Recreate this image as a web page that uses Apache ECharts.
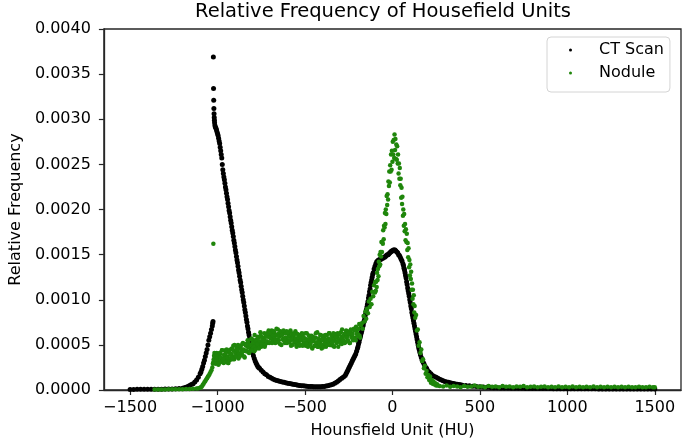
<!DOCTYPE html>
<html>
<head>
<meta charset="utf-8">
<script src="https://cdn.jsdelivr.net/npm/echarts@6/dist/echarts.min.js"></script>
<style>html,body{margin:0;padding:0;background:#fff}#c{width:685px;height:444px}</style>
</head>
<body>
<div id="c"></div>
<script>
// Tick labels
const xTicks = [-1500, -1000, -500, 0, 500, 1000, 1500];
const seriesNames = ['CT Scan', 'Nodule'];

// CT Scan: [HU, relative frequency]
const ctScan = [
[-1500,0.000006],[-1480,0.000006],[-1460,0.000007],[-1440,0.000007],[-1420,0.000007],[-1400,0.000008],[-1380,0.000008],[-1360,0.000008],[-1340,0.000009],[-1320,0.000009],[-1300,0.00001],[-1280,0.000011],[-1260,0.000012],[-1240,0.000014],[-1220,0.000017],[-1200,0.00002],
[-1190,0.000025],[-1180,0.00003],[-1170,0.00004],[-1160,0.00005],[-1150,0.00006],[-1140,0.00007],[-1130,0.00009],[-1120,0.00011],[-1110,0.00014],[-1100,0.00018],[-1095,0.0002],[-1090,0.00023],[-1085,0.00026],[-1080,0.0003],[-1075,0.00033],[-1070,0.00037],[-1065,0.00041],[-1060,0.00045],[-1055,0.0005],[-1050,0.00055],[-1045,0.00059],[-1040,0.00063],[-1035,0.00067],[-1030,0.00071],[-1028,0.00074],[-1026,0.00076],
[-1024,0.00369],[-1023,0.00334],[-1022,0.00321],[-1021,0.00312],[-1020,0.00306],[-1019,0.00302],[-1018,0.00299],[-1017,0.00296],
[-1015,0.00293],[-1012,0.00291],[-1009,0.0029],[-1006,0.00288],[-1003,0.00286],[-1000,0.00284],[-997,0.00282],[-994,0.00279],[-991,0.00276],[-988,0.00273],[-985,0.00269],[-982,0.00265],[-979,0.00261],[-976,0.00257],[-973,0.0025],
[-970,0.00244],[-967,0.0024],[-964,0.00236],[-961,0.00233],[-958,0.00229],[-955,0.00225],[-952,0.00222],[-949,0.00218],[-946,0.00214],[-943,0.00211],[-940,0.00207],[-937,0.00203],[-934,0.00199],[-931,0.00196],[-928,0.00192],[-925,0.00188],[-922,0.00185],[-919,0.00181],[-916,0.00177],[-913,0.00174],[-910,0.0017],[-907,0.00166],[-904,0.00163],[-901,0.00159],[-898,0.00155],[-895,0.00152],[-892,0.00148],[-889,0.00144],[-886,0.00141],[-883,0.00137],[-880,0.00133],[-877,0.0013],[-874,0.00126],[-871,0.00122],[-868,0.00119],[-865,0.00115],[-862,0.00111],[-859,0.00108],[-856,0.00104],[-853,0.001],[-850,0.00097],[-847,0.00093],[-844,0.00089],[-841,0.00086],[-838,0.00082],[-835,0.00078],[-832,0.00075],[-829,0.00071],[-826,0.00068],[-823,0.00064],[-820,0.00061],[-817,0.00057],[-814,0.00054],[-811,0.00051],[-808,0.00048],[-805,0.00045],[-802,0.00043],[-799,0.00041],[-795,0.00038],[-790,0.00035],[-785,0.00032],[-780,0.0003],[-775,0.00028],[-770,0.00026],[-765,0.00025],[-760,0.00024],
[-750,0.00022],[-740,0.0002],[-730,0.00018],[-720,0.00017],[-710,0.00015],[-700,0.00014],[-690,0.00013],[-680,0.00012],[-670,0.00011],[-660,0.000105],[-650,0.0001],[-640,0.000095],[-630,0.00009],[-620,0.000085],[-610,0.00008],[-600,0.000075],[-590,0.000072],[-580,0.000068],[-570,0.000064],[-560,0.00006],[-550,0.000057],[-540,0.000054],[-530,0.000051],[-520,0.000048],[-510,0.000046],[-500,0.000044],[-490,0.000042],[-480,0.00004],[-470,0.000039],[-460,0.000038],[-450,0.000037],[-440,0.000036],[-430,0.000036],[-420,0.000036],[-410,0.000037],[-400,0.000038],[-390,0.00004],[-380,0.000043],[-370,0.000047],[-360,0.000052],[-350,0.000058],[-340,0.000065],[-330,0.000074],[-320,0.000085],[-310,0.0001],[-300,0.000115],[-290,0.00013],[-280,0.000145],[-270,0.00016],
[-265,0.00018],[-260,0.0002],[-255,0.00022],[-250,0.00024],[-245,0.00026],[-240,0.00028],[-235,0.0003],[-230,0.00032],[-225,0.00034],[-220,0.00036],[-215,0.00038],[-210,0.0004],[-205,0.00043],[-200,0.00046],[-197,0.00048],[-194,0.00051],[-191,0.00053],[-188,0.00056],[-185,0.00058],[-182,0.0006],[-179,0.00063],[-176,0.00065],[-173,0.00068],[-170,0.0007],[-167,0.00072],[-164,0.00075],[-161,0.00077],[-158,0.0008],[-155,0.00083],[-152,0.00086],[-149,0.00089],[-146,0.00092],[-143,0.00095],[-140,0.00098],[-137,0.00102],[-134,0.00105],[-131,0.00109],[-128,0.00112],[-125,0.00116],[-122,0.00119],[-119,0.00122],[-116,0.00125],[-113,0.00128],[-110,0.0013],[-105,0.00134],[-100,0.00137],[-95,0.0014],[-90,0.00142],[-85,0.00143],[-80,0.00144],[-75,0.00144],[-70,0.00145],[-65,0.00145],[-60,0.00146],[-55,0.00146],[-50,0.00147],[-45,0.00147],[-40,0.00148],[-35,0.00149],[-30,0.0015],[-25,0.0015],[-20,0.00151],[-15,0.00152],[-10,0.00153],[-5,0.00154],[0,0.00154],[5,0.00155],[10,0.00155],[15,0.00155],[20,0.00154],[25,0.00153],[30,0.00152],[35,0.0015],[40,0.00149],[45,0.00147],[50,0.00145],[55,0.00143],[60,0.0014],[63,0.00138],[66,0.00135],[69,0.00133],[72,0.0013],[75,0.00127],[78,0.00124],[81,0.0012],[84,0.00117],[87,0.00113],[90,0.0011],[93,0.00107],[96,0.00104],[99,0.001],[102,0.00097],[105,0.00093],[108,0.0009],[111,0.00086],[114,0.00083],[117,0.0008],[120,0.00077],[123,0.00074],[126,0.00071],[129,0.00068],[132,0.00065],[135,0.00062],[138,0.00059],[141,0.00056],[144,0.00053],[147,0.0005],[150,0.00047],[153,0.00045],[156,0.00042],[160,0.00039],[165,0.00036],[170,0.00033],[175,0.00031],[180,0.00029],[185,0.00027],[190,0.00025],[195,0.00024],[200,0.00022],[210,0.0002],[220,0.00018],[230,0.00016],[240,0.00015],[250,0.00014],[260,0.00013],[270,0.00012],[280,0.00011],[290,0.000102],[300,0.000095],[310,0.00009],[320,0.000085],[330,0.00008],[340,0.000075],[350,0.000071],[360,0.000067],[370,0.000063],[380,0.00006],[390,0.000057],[400,0.000054],[420,0.00005],[440,0.000046],[460,0.000042],[480,0.000039],[500,0.000036],[520,0.000033],[540,0.00003],[560,0.000028],[580,0.000026],[600,0.000024],
[620,0.000023],[640,0.000022],[660,0.000021],[680,0.00002],[700,0.00002],[720,0.000019],[740,0.000019],[760,0.000018],[780,0.000018],[800,0.000017],[820,0.000017],[840,0.000017],[860,0.000016],[880,0.000016],[900,0.000016],[920,0.000015],[940,0.000015],[960,0.000015],[980,0.000015],[1000,0.000014],[1020,0.000014],[1040,0.000014],[1060,0.000014],[1080,0.000013],[1100,0.000013],[1120,0.000013],[1140,0.000013],[1160,0.000013],[1180,0.000012],[1200,0.000012],[1220,0.000012],[1240,0.000012],[1260,0.000012],[1280,0.000012],[1300,0.000011],[1320,0.000011],[1340,0.000011],[1360,0.000011],[1380,0.000011],[1400,0.000011],[1420,0.00001],[1440,0.00001],[1460,0.00001],[1480,0.00001],[1500,0.00001]
];

// Nodule: [HU, relative frequency]
const nodule = [
[-1360,0.000005],[-1340,0.000005],[-1320,0.000006],[-1300,0.000006],[-1280,0.000007],[-1260,0.000007],[-1240,0.000008],[-1220,0.000008],[-1200,0.000009],[-1180,0.00001],[-1160,0.000011],[-1140,0.000013],[-1120,0.000016],[-1110,0.00002],[-1100,0.000025],[-1095,0.00003],[-1090,0.00004],[-1085,0.000055],[-1080,0.00007],[-1075,0.000085],[-1070,0.0001],[-1065,0.000115],[-1060,0.00013],[-1055,0.00015],[-1050,0.00016],[-1045,0.00018],[-1040,0.0002],[-1035,0.00022],[-1030,0.00025],[-1027,0.00029],[-1024,0.00162],[-1024,0.00031],[-1022,0.00034],[-1020,0.00038],[-1018,0.00041],
[-1015,0.00037],[-1010,0.00029],[-1005,0.00041],[-1000,0.00033],[-995,0.00028],[-990,0.00036],[-985,0.0004],[-980,0.00032],[-975,0.00044],[-970,0.00035],[-965,0.0003],[-960,0.00038],[-955,0.00044],[-950,0.00034],[-945,0.00037],[-940,0.0003],[-935,0.00042],[-930,0.00033],[-925,0.00045],[-920,0.0004],[-915,0.00037],[-910,0.00049],[-905,0.00034],[-900,0.00043],[-895,0.00037],[-890,0.00047],[-885,0.00041],[-880,0.00035],[-875,0.00046],[-870,0.00049],[-865,0.00042],[-860,0.00039],[-855,0.00052],[-850,0.00045],[-845,0.00036],[-840,0.0005],[-835,0.00043],[-830,0.00048],[-825,0.00053],[-820,0.00041],[-815,0.0005],[-810,0.00044],[-805,0.00057],[-800,0.00047],[-795,0.00055],[-790,0.00043],[-785,0.00051],[-780,0.00054],[-775,0.00047],[-770,0.00059],[-765,0.00052],[-760,0.0005],[-755,0.00064],[-750,0.00048],[-745,0.00058],[-740,0.00053],[-735,0.00056],[-730,0.00048],[-725,0.00061],[-720,0.00052],[-715,0.00063],[-710,0.00059],[-705,0.00052],[-700,0.00061],[-695,0.00057],[-690,0.00066],[-685,0.00054],[-680,0.00059],[-675,0.00063],[-670,0.00052],[-665,0.00061],[-660,0.00056],[-655,0.00067],[-650,0.00055],[-645,0.0006],[-640,0.00065],[-635,0.0005],[-630,0.00062],[-625,0.00057],[-620,0.00063],[-615,0.00052],[-610,0.00058],[-605,0.00065],[-600,0.00055],[-595,0.00062],[-590,0.00053],[-585,0.00059],[-580,0.00049],[-575,0.00063],[-570,0.00056],[-565,0.0006],[-560,0.00053],[-555,0.00065],[-550,0.0005],[-545,0.00057],[-540,0.00054],[-535,0.00061],[-530,0.00049],[-525,0.00059],[-520,0.00055],[-515,0.0005],[-510,0.00062],[-505,0.00052],[-500,0.00057],[-495,0.00049],[-490,0.00063],[-485,0.00053],[-480,0.0005],[-475,0.0006],[-470,0.00052],[-465,0.00057],[-460,0.00047],[-455,0.00059],[-450,0.00054],[-445,0.00049],[-440,0.00058],[-435,0.00051],[-430,0.00064],[-425,0.00048],[-420,0.00056],[-415,0.00053],[-410,0.00061],[-405,0.00046],[-400,0.00057],[-395,0.0005],[-390,0.00059],[-385,0.00055],[-380,0.00048],[-375,0.00061],[-370,0.00053],[-365,0.00052],[-360,0.00063],[-355,0.0005],[-350,0.00055],[-345,0.00059],[-340,0.00049],[-335,0.00059],[-330,0.00055],[-325,0.00062],[-320,0.00052],[-315,0.00059],[-310,0.00048],[-305,0.00062],[-300,0.00055],[-295,0.00064],[-290,0.00051],[-285,0.00059],[-280,0.00055],[-275,0.00062],[-270,0.00053],[-265,0.00066],[-260,0.00059],[-255,0.00055],[-250,0.00062],[-245,0.00052],[-240,0.00065],[-235,0.00059],[-230,0.00062],[-225,0.00055],[-220,0.00068],[-215,0.00058],[-210,0.00055],[-205,0.00066],[-200,0.00063],[-195,0.00061],[-190,0.00073],[-185,0.00058],[-180,0.00072],
[-1013,0.0003],[-1008,0.0004],[-1003,0.00034],[-998,0.00038],[-993,0.00029],[-988,0.00041],[-983,0.00036],[-978,0.00031],[-973,0.00044],[-968,0.00034],[-963,0.00039],[-958,0.00031],[-953,0.00041],[-948,0.00045],[-943,0.00036],[-938,0.0003],[-933,0.00044],[-928,0.0004],[-923,0.00036],[-918,0.00046],[-913,0.00034],[-908,0.00044],[-903,0.0005],[-898,0.00041],[-893,0.00037],[-888,0.00044],[-883,0.0005],[-878,0.0004],[-873,0.00037],[-868,0.00048],[-863,0.00045],[-858,0.00051],[-853,0.00043],[-848,0.00037],[-843,0.00051],[-838,0.0005],[-833,0.00043],[-828,0.00055],[-823,0.00047],[-818,0.00042],[-813,0.0005],[-808,0.00056],[-803,0.00044],[-798,0.00052],[-793,0.00048],[-788,0.00061],[-783,0.00045],[-778,0.00056],[-773,0.00051],[-768,0.00058],[-763,0.00046],[-758,0.00054],[-753,0.0006],[-748,0.00051],[-743,0.00058],[-738,0.00055],[-733,0.00063],[-728,0.0005],[-723,0.00059],[-718,0.00054],[-713,0.00063],[-708,0.00066],[-703,0.00053],[-698,0.00058],[-693,0.00063],[-688,0.00052],[-683,0.0006],[-678,0.00065],[-673,0.00057],[-668,0.00055],[-663,0.00068],[-658,0.00053],[-653,0.00062],[-648,0.00059],[-643,0.00051],[-638,0.00064],[-633,0.00061],[-628,0.00056],[-623,0.00066],[-618,0.00054],[-613,0.00058],[-608,0.00063],[-603,0.00052],[-598,0.00064],[-593,0.00059],[-588,0.00054],[-583,0.00066],[-578,0.00056],[-573,0.0005],[-568,0.0006],[-563,0.00062],[-558,0.00054],[-553,0.00057],[-548,0.00048],[-543,0.00062],[-538,0.00058],[-533,0.00051],[-528,0.0006],[-523,0.00055],[-518,0.00063],[-513,0.00049],[-508,0.00058],[-503,0.00053],[-498,0.00063],[-493,0.00051],[-488,0.00056],[-483,0.00048],[-478,0.0006],[-473,0.00055],[-468,0.00051],[-463,0.0006],[-458,0.00046],[-453,0.00056],[-448,0.00058],[-443,0.00049],[-438,0.00063],[-433,0.00053],[-428,0.00048],[-423,0.00057],[-418,0.00052],[-413,0.00061],[-408,0.0005],[-403,0.00055],[-398,0.00047],[-393,0.0006],[-388,0.00052],[-383,0.00061],[-378,0.00055],[-373,0.0005],[-368,0.00057],[-363,0.00063],[-358,0.0005],[-353,0.00055],[-348,0.0006],[-343,0.00053],[-338,0.00063],[-333,0.00048],[-328,0.0006],[-323,0.00058],[-318,0.00053],[-313,0.00063],[-308,0.00055],[-303,0.00062],[-298,0.00052],[-293,0.00058],[-288,0.00067],[-283,0.00055],[-278,0.0006],[-273,0.00052],[-268,0.00063],[-263,0.00058],[-258,0.00065],[-253,0.00054],[-248,0.00063],[-243,0.00052],[-238,0.00067],[-233,0.00058],[-228,0.00062],[-223,0.00057],[-218,0.00066],[-213,0.00056],[-208,0.0007],[-203,0.00062],[-198,0.0006],[-193,0.00068],[-188,0.0006],[-183,0.00072],
[-175,0.00074],[-170,0.00068],[-165,0.00082],[-160,0.00076],[-155,0.00087],[-150,0.00079],[-145,0.0009],[-140,0.00085],[-135,0.00098],[-130,0.00092],[-125,0.00101],[-120,0.00095],[-115,0.00109],[-110,0.00104],[-105,0.00116],[-100,0.00108],[-98,0.0012],[-95,0.0011],[-93,0.0012],[-90,0.00114],[-88,0.0013],[-85,0.00122],[-83,0.00134],[-80,0.00126],[-78,0.00142],[-75,0.00137],[-73,0.0015],[-70,0.00139],[-68,0.00153],[-65,0.00148],[-63,0.00164],[-60,0.00153],[-58,0.00164],[-55,0.00162],[-53,0.00177],[-50,0.00167],[-48,0.00182],[-45,0.0018],[-43,0.00196],[-40,0.00184],[-38,0.002],[-35,0.00195],[-33,0.00215],[-30,0.00205],[-28,0.00217],[-25,0.00211],[-23,0.00231],[-20,0.00226],[-18,0.00242],[-15,0.0023],[-13,0.00249],[-10,0.00242],[-8,0.00261],[-5,0.00244],[-3,0.00265],[0,0.00253],[2,0.00275],[5,0.00261],[7,0.00277],[10,0.00257],[12,0.00283],[15,0.00266],[17,0.00278],[20,0.00256],[22,0.00272],[25,0.00255],[27,0.0027],[30,0.00251],[32,0.00261],[35,0.0024],[37,0.00251],[40,0.00234],[42,0.00246],[45,0.00227],[47,0.00234],[50,0.00213],[52,0.00224],[55,0.00206],[57,0.00214],[60,0.00193],[62,0.002],[65,0.00182],[67,0.00195],[70,0.00176],[72,0.00184],[75,0.00166],[77,0.00178],[80,0.00164],[82,0.00173],[85,0.00155],[87,0.00163],[90,0.00147],[92,0.00157],[95,0.00136],[97,0.00144],[100,0.00127],[102,0.00139],[105,0.00123],[107,0.00131],[110,0.00111],[112,0.00118],[115,0.00101],[117,0.00111],[120,0.00095],[122,0.00105],[125,0.00086],[127,0.00093],[130,0.0008],[135,0.00083],[140,0.00066],[145,0.00067],[150,0.00049],[155,0.00053],[160,0.00041],[165,0.00045],[170,0.00032],[175,0.00034],[180,0.00024],[185,0.00027],[190,0.00018],[195,0.00021],[200,0.00014],[205,0.000165],[210,0.00011],[215,0.00015],[220,0.00008],[225,0.00011],[230,0.00007],[235,0.000095],[240,0.00006],[245,0.000075],[250,0.00005],[255,0.000065],[260,0.00005],
[270,0.000045],[290,0.00004],[310,0.00005],[330,0.000035],[350,0.000045],[370,0.00004],[390,0.00003],[410,0.000045],[430,0.000035],[450,0.00004],[470,0.00005],[490,0.000035],[510,0.00004],[530,0.00003],[550,0.000045],[570,0.000035],[590,0.00004],[610,0.00003],[630,0.000045],[650,0.000035],[670,0.00004],[690,0.00003],[710,0.00004],[730,0.000035],[750,0.000045],[770,0.00003],[790,0.000035],[810,0.00004],[830,0.00003],[850,0.000035],[870,0.00004],[890,0.00003],[910,0.000035],[930,0.00003],[950,0.00004],[970,0.00003],[990,0.000035],[1010,0.00003],[1030,0.00004],[1050,0.00003],[1070,0.000035],[1090,0.00003],[1110,0.000035],[1130,0.00003],[1150,0.00004],[1170,0.00003],[1190,0.000035],[1210,0.00003],[1230,0.000035],[1250,0.00003],[1270,0.000035],[1290,0.00003],[1310,0.000035],[1330,0.00003],[1350,0.000035],[1370,0.00003],[1390,0.00003],[1410,0.000035],[1430,0.00003],[1450,0.00003],[1470,0.000035],[1490,0.00003],[1500,0.00003]
];

const FONT = 'DejaVu Sans';
const AX = '#262626';
const chart = echarts.init(document.getElementById('c'), null, {renderer: 'canvas'});
chart.setOption({
  animation: false,
  backgroundColor: '#fff',
  title: {
    text: 'Relative Frequency of Housefield Units',
    left: 195, top: 2, padding: 0,
    textStyle: {fontFamily: FONT, fontSize: 19.5, fontWeight: 'normal', color: '#000'}
  },
  legend: {
    data: [{name: seriesNames[0], icon: 'circle'}, {name: seriesNames[1], icon: 'circle'}],
    orient: 'vertical', left: 547, top: 37,
    itemWidth: 3, itemHeight: 3, itemGap: 7,
    padding: [5, 6, 11, 22],
    backgroundColor: '#fff', borderColor: '#d4d4d4', borderWidth: 1, borderRadius: 4,
    textStyle: {fontFamily: FONT, fontSize: 16, color: '#000', padding: [0, 0, 0, 22]}
  },
  grid: {left: 95, top: 29, width: 586, height: 361, show: true, borderColor: AX, borderWidth: 1.3, backgroundColor: '#fff'},
  xAxis: {
    type: 'value', min: -1650, max: 1650,
    name: 'Hounsfield Unit (HU)', nameLocation: 'middle', nameGap: 33,
    nameTextStyle: {fontFamily: FONT, fontSize: 16, color: '#000'},
    axisLine: {show: true, onZero: false, lineStyle: {color: AX, width: 1.3}},
    axisTick: {show: true, length: 5, customValues: xTicks, lineStyle: {color: AX, width: 1.2}},
    axisLabel: {customValues: xTicks, margin: 10, fontFamily: FONT, fontSize: 16, color: '#000',
      formatter: v => (v < 0 ? '\u2212' + Math.abs(v) : String(v))},
    splitLine: {show: false}
  },
  yAxis: {
    type: 'value', min: 0, max: 0.004, interval: 0.0005,
    name: 'Relative Frequency', nameLocation: 'middle', nameGap: 78,
    nameTextStyle: {fontFamily: FONT, fontSize: 16, color: '#000'},
    axisLine: {show: true, onZero: false, lineStyle: {color: AX, width: 1.3}},
    axisTick: {show: true, length: 5, lineStyle: {color: AX, width: 1.2}},
    axisLabel: {margin: 13, fontFamily: FONT, fontSize: 16, color: '#000', formatter: v => v.toFixed(4)},
    splitLine: {show: false}
  },
  series: [
    {name: seriesNames[0], type: 'scatter', data: ctScan, symbol: 'circle', symbolSize: 5,
     itemStyle: {color: '#000', opacity: 1}, z: 2},
    {name: seriesNames[1], type: 'scatter', data: nodule, symbol: 'circle', symbolSize: 4.5,
     itemStyle: {color: '#1f860b', opacity: 1}, z: 3}
  ]
});
</script>
</body>
</html>
